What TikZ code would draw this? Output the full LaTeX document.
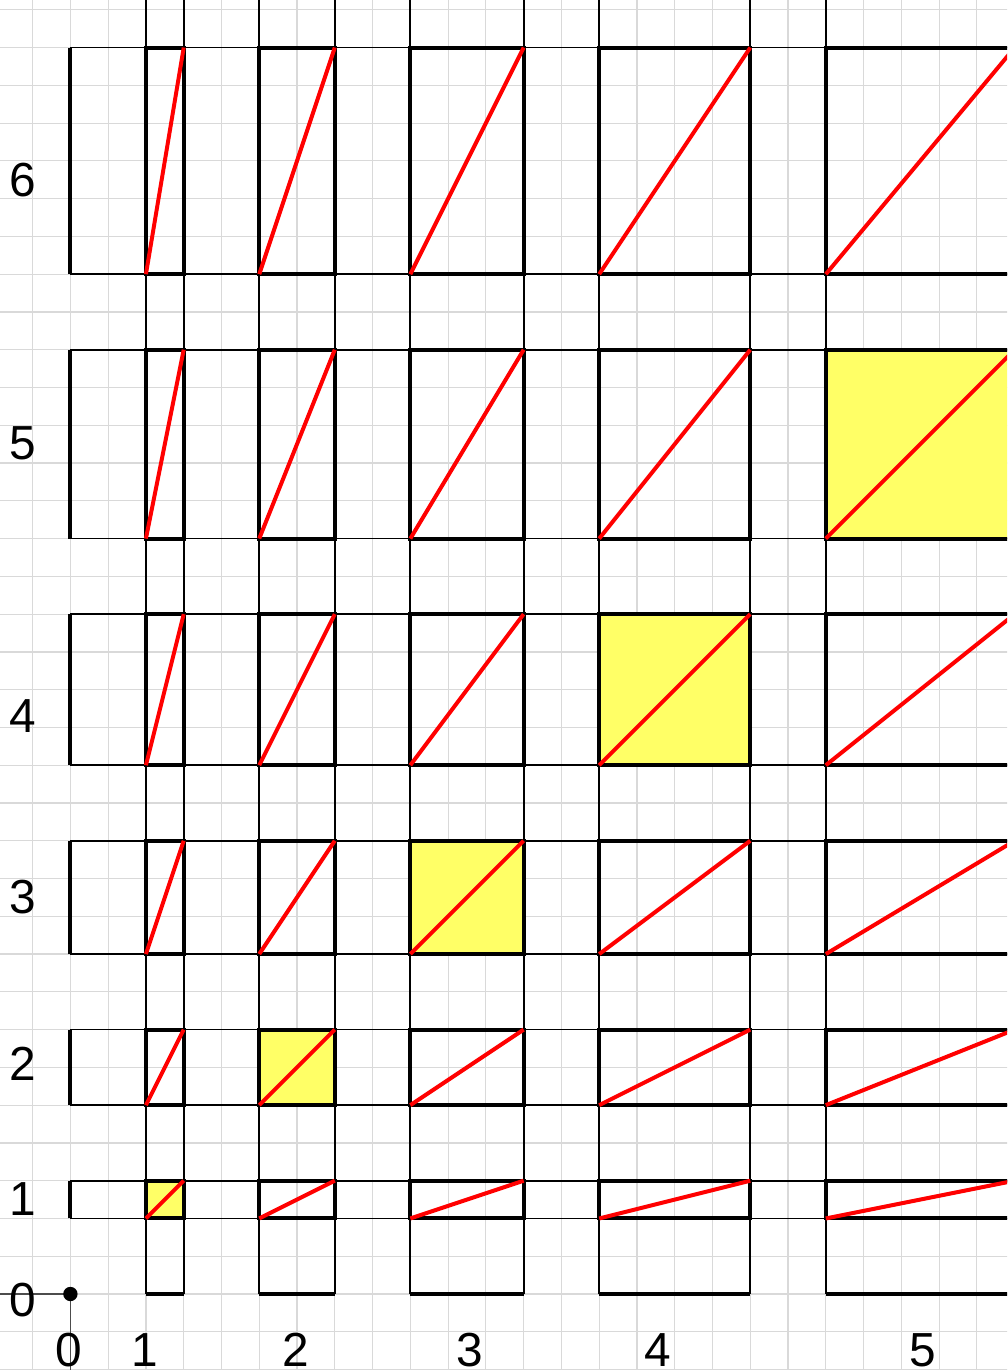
\documentclass[tikz,border=0pt]{standalone}
\usepackage{fontspec}
\setmainfont{Liberation Sans}
\usepackage{tikz}
\usetikzlibrary{calc}
\definecolor{cellyellow}{RGB}{255,255,102}

\begin{document}
\begin{tikzpicture}[
    gridline/.style={gray!30, line width=0.9pt},
    guide/.style={black, line width=1.3pt},
    cell/.style={draw=black, line width=3pt},
    diag/.style={red, line width=3pt},
    axisline/.style={black!70, line width=1.2pt},
    lab/.style={font=\fontsize{36}{40}\selectfont, inner sep=0pt}
]
\clip (-1.864,-2.012) rectangle (24.80,34.26);
\draw[gridline] (-3,-3) grid (26,35);

% guide lines of the columns and rows
\foreach \i/\a in {1/2,2/5,3/9,4/14,5/20} {
  \draw[guide] (\a,0) -- (\a,35);
  \draw[guide] (\a+\i,0) -- (\a+\i,35);
}
\foreach \j/\c in {1/2,2/5,3/9,4/14,5/20,6/27} {
  \draw[guide] (0,\c) -- (26,\c);
  \draw[guide] (0,\c+\j) -- (26,\c+\j);
}

% rectangles with their diagonals
\foreach \i/\a in {1/2,2/5,3/9,4/14,5/20} {
  \foreach \j/\c in {1/2,2/5,3/9,4/14,5/20,6/27} {
    \ifnum\i=\j
      \fill[cellyellow] (\a,\c) rectangle (\a+\i,\c+\j);
    \fi
    \draw[cell] (\a,\c) rectangle (\a+\i,\c+\j);
    \draw[diag] (\a,\c) -- (\a+\i,\c+\j);
  }
}

% thick sides on the axes
\foreach \i/\a in {1/2,2/5,3/9,4/14,5/20}
  \draw[cell] (\a,0) -- (\a+\i,0);
\foreach \j/\c in {1/2,2/5,3/9,4/14,5/20,6/27}
  \draw[cell] (0,\c) -- (0,\c+\j);

\coordinate (origin) at (0,0);
\coordinate (xend) at (-3,0);
\coordinate (yend) at (0,-3);
\draw[axisline] (origin) -- (xend);
\draw[axisline] (origin) -- (yend);
\fill (origin) circle (0.19);

% labels
\node[lab] (x0) at (-0.05,-1.48) {0};
\node[lab] (x1) at (1.98,-1.48) {1};
\node[lab] (x2) at (5.96,-1.48) {2};
\node[lab] (x3) at (10.57,-1.48) {3};
\node[lab] (x4) at (15.55,-1.48) {4};
\node[lab] (x5) at (22.57,-1.48) {5};

\node[lab] (y0) at (-1.26,-0.16) {0};
\node[lab] (y1) at (-1.26,2.52) {1};
\node[lab] (y2) at (-1.26,6.09) {2};
\node[lab] (y3) at (-1.26,10.52) {3};
\node[lab] (y4) at (-1.26,15.3) {4};
\node[lab] (y5) at (-1.26,22.53) {5};
\node[lab] (y6) at (-1.26,29.49) {6};
\end{tikzpicture}
\end{document}
